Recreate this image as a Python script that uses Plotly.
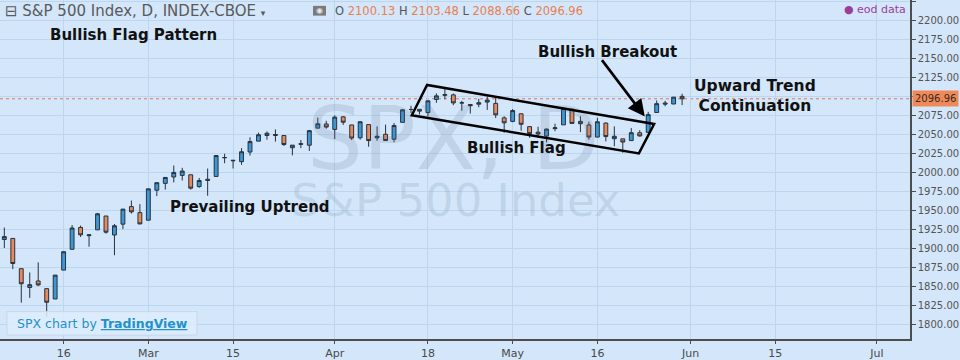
import numpy as np
import plotly.graph_objects as go

# ---------------- data ----------------
dates = [
    "2016-02-04", "2016-02-05", "2016-02-08", "2016-02-09", "2016-02-10", "2016-02-11", "2016-02-12",
    "2016-02-16", "2016-02-17", "2016-02-18", "2016-02-19", "2016-02-22", "2016-02-23", "2016-02-24",
    "2016-02-25", "2016-02-26", "2016-02-29",
    "2016-03-01", "2016-03-02", "2016-03-03", "2016-03-04", "2016-03-07", "2016-03-08", "2016-03-09",
    "2016-03-10", "2016-03-11", "2016-03-14", "2016-03-15", "2016-03-16", "2016-03-17", "2016-03-18",
    "2016-03-21", "2016-03-22", "2016-03-23", "2016-03-24", "2016-03-28", "2016-03-29", "2016-03-30",
    "2016-03-31",
    "2016-04-01", "2016-04-04", "2016-04-05", "2016-04-06", "2016-04-07", "2016-04-08", "2016-04-11",
    "2016-04-12", "2016-04-13", "2016-04-14", "2016-04-15", "2016-04-18", "2016-04-19", "2016-04-20",
    "2016-04-21", "2016-04-22", "2016-04-25", "2016-04-26", "2016-04-27", "2016-04-28", "2016-04-29",
    "2016-05-02", "2016-05-03", "2016-05-04", "2016-05-05", "2016-05-06", "2016-05-09", "2016-05-10",
    "2016-05-11", "2016-05-12", "2016-05-13", "2016-05-16", "2016-05-17", "2016-05-18", "2016-05-19",
    "2016-05-20", "2016-05-23", "2016-05-24", "2016-05-25", "2016-05-26", "2016-05-27", "2016-05-31",
]
opens = [
    1911.7, 1913.1, 1873.3, 1848.5, 1857.1, 1847.0, 1833.4,
    1871.4, 1898.8, 1927.6, 1916.7, 1924.4, 1942.6, 1917.6, 1931.9, 1955.0, 1947.1,
    1937.1, 1976.6, 1985.6, 1994.0, 1996.1, 1996.9, 1981.4, 1991.0, 1994.7, 2019.3, 2015.3,
    2014.2, 2026.9, 2041.2, 2048.6, 2048.6, 2048.6, 2032.5, 2037.9, 2035.8, 2058.3, 2063.8,
    2056.6, 2073.2, 2062.5, 2045.6, 2063.0, 2045.5, 2050.2, 2043.7, 2065.9, 2082.9, 2083.1,
    2078.8, 2096.1, 2101.5, 2102.1, 2091.5, 2089.4, 2089.8, 2092.6, 2090.9, 2071.8,
    2067.2, 2077.2, 2060.3, 2053.0, 2047.8, 2057.6, 2062.6, 2083.3, 2067.2, 2062.5,
    2046.5, 2065.0, 2044.4, 2044.2, 2041.9, 2052.2, 2052.7, 2078.9, 2091.4, 2090.1, 2100.13,
]
highs = [
    1927.4, 1913.1, 1873.3, 1868.3, 1881.6, 1847.0, 1864.8,
    1895.8, 1930.7, 1930.0, 1918.8, 1946.7, 1942.6, 1932.1, 1951.8, 1963.0, 1958.3,
    1978.4, 1986.5, 1993.7, 2009.1, 2006.1, 1996.9, 1992.7, 2005.1, 2022.4, 2024.6, 2015.9,
    2032.0, 2046.2, 2052.4, 2053.9, 2056.6, 2048.6, 2036.0, 2042.7, 2055.9, 2072.2, 2067.9,
    2075.1, 2074.0, 2062.5, 2067.3, 2063.0, 2060.6, 2062.9, 2065.1, 2083.2, 2087.8, 2083.2,
    2094.7, 2104.1, 2111.1, 2103.8, 2094.3, 2089.4, 2096.9, 2099.9, 2099.3, 2073.9,
    2083.4, 2077.2, 2060.3, 2060.2, 2057.7, 2064.2, 2084.9, 2083.3, 2074.0, 2066.8,
    2071.9, 2065.7, 2060.6, 2044.2, 2058.4, 2055.6, 2079.7, 2094.7, 2094.3, 2099.1, 2103.48,
]
lows = [
    1900.5, 1872.7, 1828.5, 1834.9, 1850.3, 1810.1, 1833.4,
    1871.4, 1898.8, 1915.1, 1902.2, 1924.4, 1919.4, 1891.0, 1925.4, 1945.8, 1931.8,
    1937.1, 1968.8, 1977.4, 1986.8, 1989.4, 1977.4, 1979.8, 1969.3, 1994.7, 2012.1, 2005.2,
    2010.0, 2022.2, 2041.2, 2043.1, 2040.6, 2034.9, 2022.5, 2032.0, 2028.3, 2058.3, 2057.5,
    2044.0, 2062.6, 2042.6, 2043.1, 2033.8, 2041.7, 2041.9, 2039.7, 2065.9, 2078.1, 2076.3,
    2073.7, 2091.7, 2096.3, 2088.5, 2081.2, 2077.5, 2085.8, 2082.3, 2071.6, 2052.3,
    2066.1, 2054.9, 2045.6, 2045.8, 2039.5, 2054.3, 2062.6, 2064.5, 2053.1, 2043.1,
    2046.5, 2040.8, 2034.5, 2025.9, 2041.9, 2047.3, 2052.7, 2078.9, 2087.1, 2090.1, 2088.66,
]
closes = [
    1915.5, 1880.1, 1853.4, 1852.2, 1851.9, 1829.1, 1864.8,
    1895.6, 1926.8, 1917.8, 1917.8, 1945.5, 1921.3, 1929.8, 1951.7, 1948.1, 1932.2,
    1978.4, 1986.5, 1993.4, 2000.0, 2001.8, 1979.3, 1989.3, 1989.6, 2022.2, 2019.6, 2015.9,
    2027.2, 2040.6, 2049.6, 2051.6, 2049.8, 2036.7, 2035.9, 2037.1, 2055.0, 2064.0, 2059.7,
    2072.8, 2066.1, 2045.2, 2066.7, 2041.9, 2047.6, 2042.0, 2061.7, 2082.4, 2082.8, 2080.7,
    2094.3, 2100.8, 2102.4, 2091.5, 2091.6, 2087.8, 2091.7, 2095.2, 2075.8, 2065.3,
    2081.4, 2063.4, 2051.1, 2050.6, 2057.1, 2058.7, 2084.4, 2064.5, 2064.1, 2046.6,
    2066.7, 2047.2, 2047.6, 2040.0, 2052.3, 2048.0, 2076.1, 2090.5, 2090.1, 2099.1, 2096.96,
]
holidays = ["2016-02-15", "2016-03-25", "2016-05-30", "2016-07-04"]
tick_dates = ["2016-02-16", "2016-03-01", "2016-03-15", "2016-04-01", "2016-04-18",
              "2016-05-02", "2016-05-16", "2016-06-01", "2016-06-15", "2016-07-01"]
tick_labels = ["16", "Mar", "15", "Apr", "18", "May", "16", "Jun", "15", "Jul"]
y_ticks = list(range(1800, 2226, 25))
last_price = 2096.96

# ---------------- helpers ----------------
W, H = 960, 360
ML, MR, MT, MB = 0, 50, 0, 13
PW, PH = W - ML - MR, H - MT - MB


def px(x):
    return (x - ML) / PW


def py(y):
    return 1 - (y - MT) / PH


xi = np.arange(len(dates))
tick_pos = [int(np.busday_count(dates[0], d, holidays=holidays)) for d in tick_dates]

BG = "#d3e6fa"
GRID = "#bdd6ef"
AXIS = "#4d4d4d"

fig = go.Figure()

# watermark (drawn beneath the candles)
fig.add_trace(go.Scatter(
    x=[53.0, 53.3], y=[2034, 1957], mode="text",
    text=["SPX, D", "S&P 500 Index"],
    textfont=dict(family="DejaVu Sans", size=[88, 45], color="rgba(95,115,140,0.17)"),
    hoverinfo="skip", showlegend=False,
))

fig.add_trace(go.Candlestick(
    x=xi, open=opens, high=highs, low=lows, close=closes,
    increasing=dict(line=dict(color="#26323d", width=1), fillcolor="#3b97d6"),
    decreasing=dict(line=dict(color="#26323d", width=1), fillcolor="#e9895c"),
    whiskerwidth=0, showlegend=False,
))

shapes = []
# price line
shapes.append(dict(type="line", xref="paper", yref="y", x0=0, x1=1, y0=last_price, y1=last_price,
                   line=dict(color="#e07a55", width=1, dash="dot"), layer="below"))
# flag channel
shapes.append(dict(type="path", xref="x", yref="y",
                   path="M 48.1,2075.2 L 49.9,2115.1 L 76.7,2063.7 L 74.9,2025.1 Z",
                   line=dict(color="#000000", width=2.5)))
# credit box
shapes.append(dict(type="rect", xref="paper", yref="paper", x0=px(7), x1=px(197), y0=py(343), y1=py(319),
                   fillcolor="rgba(222,236,251,0.85)", line=dict(color="#c3d8ee", width=1)))
# eye icon
shapes.append(dict(type="rect", xref="paper", yref="paper", x0=px(313), x1=px(326), y0=py(16), y1=py(6),
                   fillcolor="#7b7b7b", line=dict(width=0)))

ann = []
BOLD = dict(family="DejaVu Sans", size=15, color="#111111")


def add_text(text, x, y, font, xanchor="center", align="center", **kw):
    ann.append(dict(text=text, x=px(x), y=py(y), xref="paper", yref="paper",
                    xanchor=xanchor, yanchor="middle", showarrow=False, font=font, align=align, **kw))


add_text("⊟ S&P 500 Index, D, INDEX-CBOE <span style='font-size:9px'>▾</span>", 3, 11,
         dict(family="DejaVu Sans", size=15, color="#5a5a5a"), xanchor="left")
add_text("◉", 319.5, 11, dict(family="DejaVu Sans", size=8, color="#e8e8e8"))
o = "#e8804f"
add_text(f"O <span style='color:{o}'>2100.13</span> H <span style='color:{o}'>2103.48</span> "
         f"L <span style='color:{o}'>2088.66</span> C <span style='color:{o}'>2096.96</span>",
         333, 11, dict(family="DejaVu Sans", size=11.5, color="#555555"), xanchor="left")
add_text("● eod data", 842, 10, dict(family="DejaVu Sans", size=11, color="#9b3e98"), xanchor="left")

add_text("<b>Bullish Flag Pattern</b>", 133, 36, BOLD)
add_text("<b>Prevailing Uptrend</b>", 250, 212, BOLD)
add_text("<b>Bullish Flag</b>", 516, 152, BOLD)
add_text("<b>Bullish Breakout</b>", 607, 53, BOLD)
add_text("<b>Upward Trend<br>Continuation</b>", 755, 98, dict(family="DejaVu Sans", size=15.5, color="#111111"))

add_text("SPX chart by <b><u>TradingView</u></b>", 102, 331,
         dict(family="DejaVu Sans", size=12.5, color="#2391cb"))

# breakout arrow
ann.append(dict(x=75.6, y=2073.5, xref="x", yref="y", text="", showarrow=True,
                ax=-44, ay=-58, arrowhead=2, arrowsize=1.3, arrowwidth=2.6, arrowcolor="#000000"))

# last-price label on the axis
ann.append(dict(x=1, y=last_price, xref="paper", yref="y", xanchor="left", yanchor="middle",
                xshift=2, text="2096.96", showarrow=False, bgcolor="#f0895a", borderpad=2,
                font=dict(family="DejaVu Sans", size=10, color="#3a2a20")))

fig.update_layout(
    width=W, height=H, margin=dict(l=ML, r=MR, t=MT, b=MB),
    paper_bgcolor=BG, plot_bgcolor=BG, showlegend=False,
    shapes=shapes, annotations=ann, boxgap=0.35,
    xaxis=dict(range=[-0.51, 106.9], tickvals=tick_pos, ticktext=tick_labels,
               showgrid=True, gridcolor=GRID, gridwidth=1, zeroline=False,
               showline=True, linecolor=AXIS, linewidth=1.5,
               ticks="outside", ticklen=3, tickcolor=AXIS,
               tickfont=dict(family="DejaVu Sans", size=11, color="#4a4a4a"),
               rangeslider=dict(visible=False), fixedrange=True),
    yaxis=dict(range=[1780.7, 2227], side="right", tickvals=y_ticks,
               ticktext=["" if v == 2100 else f"{v:.2f}" for v in y_ticks],
               showgrid=True, gridcolor=GRID, gridwidth=1, zeroline=False,
               showline=True, linecolor=AXIS, linewidth=1.5,
               ticks="outside", ticklen=4, tickcolor=AXIS,
               tickfont=dict(family="DejaVu Sans", size=10, color="#555555")),
)

fig.write_html("out.html")
